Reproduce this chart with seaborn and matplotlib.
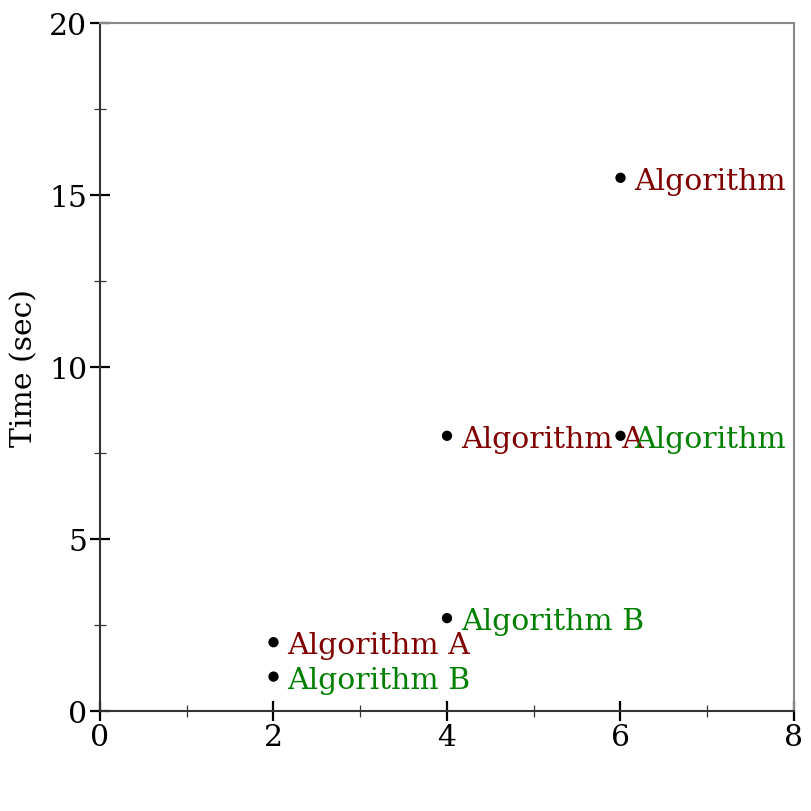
import pandas as pd
import matplotlib
matplotlib.use("Agg")
import matplotlib.pyplot as plt
import seaborn as sns
from matplotlib.ticker import MultipleLocator

# data
sizes = [2, 4, 6, 2, 4, 6]
times = [2.0, 8.0, 15.5, 1.0, 2.7, 8.0]
algorithms = ["Algorithm A", "Algorithm A", "Algorithm A",
              "Algorithm B", "Algorithm B", "Algorithm B"]
label_colors = {"Algorithm A": "#800000", "Algorithm B": "#008000"}

x_ticks = [0, 2, 4, 6, 8]
y_ticks = [0, 5, 10, 15, 20]


def main():
    sns.set_style("ticks")
    plt.rcParams['font.family'] = ['DejaVu Serif']
    plt.rcParams['text.color'] = 'black'

    df = pd.DataFrame({"size": sizes, "time": times, "algorithm": algorithms})

    fig = plt.figure(figsize=(8.12, 8.12), dpi=100)
    ax = fig.add_axes([100 / 812, 100 / 812, 694 / 812, 688 / 812])

    sns.scatterplot(data=df, x="size", y="time", color="black", s=55,
                    edgecolor="none", ax=ax, zorder=2, clip_on=False)

    # labels next to each point, clipped by the axes like the original
    for _, row in df.iterrows():
        ax.annotate(row["algorithm"], (row["size"], row["time"]),
                    xytext=(10, 0), textcoords="offset points",
                    va="center_baseline", ha="left", fontsize=21.5,
                    color=label_colors[row["algorithm"]], clip_on=True,
                    annotation_clip=True, zorder=4)

    ax.set_xlim(0, 8)
    ax.set_ylim(0, 20)
    ax.set_xticks(x_ticks)
    ax.set_yticks(y_ticks)
    ax.xaxis.set_minor_locator(MultipleLocator(1))
    ax.yaxis.set_minor_locator(MultipleLocator(2.5))
    ax.tick_params(which="major", direction="inout", length=14, width=1.6,
                   labelsize=21.5, color="black", labelcolor="black", pad=2)
    ax.tick_params(which="minor", direction="inout", length=8, width=0.9,
                   color="#333333")
    ax.set_xlabel("")
    ax.set_ylabel("Time (sec)", fontsize=21.5, labelpad=8, color="black")

    for side in ["left", "bottom"]:
        ax.spines[side].set_color("#333333")
        ax.spines[side].set_linewidth(1.5)
    for side in ["top", "right"]:
        ax.spines[side].set_visible(True)
        ax.spines[side].set_color("#888888")
        ax.spines[side].set_linewidth(1.5)

    fig.savefig("out.png", dpi=100)
    plt.close(fig)


if __name__ == "__main__":
    main()
